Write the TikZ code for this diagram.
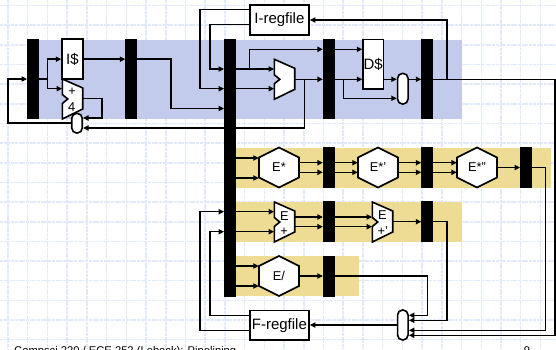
\documentclass[tikz,border=0pt]{standalone}
\usepackage{fontspec}
\setmainfont{Liberation Sans}
\usetikzlibrary{arrows.meta}
\definecolor{gridc}{HTML}{E2E9FB}
\definecolor{bandblue}{HTML}{C3CBEC}
\definecolor{bandyellow}{HTML}{EEDB94}
\tikzset{
  wire/.style={draw=black,line width=1.5pt,line join=miter},
  arrow/.style={wire,-{Triangle[length=5.5pt,width=5.2pt]}},
  pipebar/.style={fill=black,draw=none,inner sep=0pt,minimum width=11.5pt},
  block/.style={draw=black,fill=white,line width=1.6pt,inner sep=0pt},
  mux/.style={draw=black,fill=white,line width=1.6pt,inner sep=0pt,rounded corners=5pt,minimum width=10.5pt},
  shapebox/.style={inner sep=0pt,font=\fontsize{12.8}{14}\selectfont},
  bigtext/.style={font=\fontsize{15}{16}\selectfont},
  smalltext/.style={inner sep=0pt,font=\fontsize{12.8}{14}\selectfont},
  gridline/.style={draw=gridc,line width=1.5pt,dash pattern=on 3pt off 0.7pt},
  unit/.style={draw=black,fill=white,line width=1.6pt,line join=miter}
}
\newcommand{\hexa}[4]{%
  \draw[unit] (#2-20,#3-10) -- (#2,#3-20) -- (#2+20,#3-10) -- (#2+20,#3+10) -- (#2,#3+20) -- (#2-20,#3+10) -- cycle;
  \node[shapebox,minimum width=40pt,minimum height=40pt] (#1) at (#2,#3) {#4};}
\newcommand{\notched}[3]{%
  \draw[unit] (#2,#3) -- (#2+20.4,#3+9) -- (#2+20.4,#3+30) -- (#2,#3+40) -- (#2,#3+24.5) -- (#2+5.5,#3+20) -- (#2,#3+15.5) -- cycle;
  \node[inner sep=0pt,minimum width=20.4pt,minimum height=40pt] (#1) at (#2+10.2,#3+20) {};}
\begin{document}
\begin{tikzpicture}[x=1pt,y=-1pt]
\useasboundingbox (0,0) rectangle (556,349);
\begin{scope}
\clip (0,0) rectangle (556,349);
\fill[white] (0,0) rectangle (556,349);
% grid
\foreach \k in {0,...,27} \draw[gridline] ({8+19.72*\k},0) -- ({8+19.72*\k},349);
\foreach \k in {0,...,17} \draw[gridline] (0,{5.5+19.66*\k}) -- (556,{5.5+19.66*\k});
% bands
\fill[bandblue] (30,40) rectangle (462,119);
\fill[bandyellow] (230,148) rectangle (551,188);
\fill[bandyellow] (230,201.7) rectangle (462,241.7);
\fill[bandyellow] (230,256) rectangle (359,296);
% pipeline bars
\node[pipebar,minimum height=80.5pt] (barA) at (33,78.8) {};
\node[pipebar,minimum height=80.5pt] (barB) at (131.2,78.8) {};
\node[pipebar,minimum height=258pt] (barC) at (230,167.5) {};
\node[pipebar,minimum height=80.5pt] (barD) at (328.8,78.8) {};
\node[pipebar,minimum height=80.5pt] (barE) at (427.2,78.8) {};
\node[pipebar,minimum height=41pt] (barF) at (328.8,167.5) {};
\node[pipebar,minimum height=41pt] (barG) at (427.2,167.5) {};
\node[pipebar,minimum height=41pt] (barH) at (526,167.5) {};
\node[pipebar,minimum height=41pt] (barI) at (328.8,221.5) {};
\node[pipebar,minimum height=41pt] (barJ) at (427.2,221.5) {};
\node[pipebar,minimum height=41pt] (barK) at (328.8,276) {};
% memories and register files
\node[block,minimum width=20.7pt,minimum height=40pt,bigtext] (icache) at (72.4,59.2) {I\$};
\node[block,minimum width=20.3pt,minimum height=49.4pt,bigtext] (dcache) at (373.2,64) {D\$};
\node[block,minimum width=59.3pt,minimum height=29.7pt,bigtext] (iregs) at (279.4,19.9) {I-regfile};
\node[block,minimum width=59.3pt,minimum height=29.7pt,bigtext] (fregs) at (279.4,325.2) {F-regfile};
% function units
\notched{adder}{62.3}{79}
\notched{alu}{274.3}{59.3}
\notched{addA}{274.3}{202}
\notched{addB}{372.3}{202}
\node[smalltext] (adderPlus) at (72,91.5) {+};
\node[smalltext] (adderFour) at (71.7,107) {4};
\node[smalltext] (addAE) at (284.3,216) {E};
\node[smalltext] (addAP) at (284,232) {+};
\node[smalltext] (addBE) at (382.3,215.5) {E};
\node[smalltext] (addBP) at (382.8,231) {+'};
\hexa{hexA}{279}{167.5}{E*}
\hexa{hexB}{378}{167.5}{E*'}
\hexa{hexC}{477}{167.5}{E*''}
\hexa{hexD}{279}{276}{E/}
% muxes
\node[mux,minimum height=19.7pt] (muxPC) at (77,123.2) {};
\node[mux,minimum height=30.7pt] (muxM) at (402.8,88.7) {};
\node[mux,minimum height=30pt] (muxF) at (402.8,325) {};
% fetch
\draw[arrow] (muxPC.west |- 0,123) -- (8,123) -- (8,79) -- (barA.west |- 0,79);
\draw[arrow] (barA.east |- 0,79) -- (47.3,79) -- (47.3,59.2) -- (icache.west |- 0,59.2);
\draw[arrow] (47.3,79) -- (47.3,88.7) -- (adder.west |- 0,88.7);
\draw[arrow] (icache.east) -- (barB.west |- icache.east);
\draw[arrow] (barB.east |- 0,59.2) -- (171,59.2) -- (171,108.5) -- (barC.west |- 0,108.5);
\draw[arrow] (adder.east |- 0,98.3) -- (102,98.3) -- (102,118) -- (muxPC.east |- 0,118);
% register read
\draw[arrow] (iregs.west |- 0,9.7) -- (200,9.7) -- (200,88.7) -- (barC.west |- 0,88.7);
\draw[arrow] (iregs.west |- 0,24.7) -- (210,24.7) -- (210,69) -- (barC.west |- 0,69);
% execute
\draw[arrow] (barC.east |- 0,69) -- (alu.west |- 0,69);
\draw[arrow] (barC.east |- 0,88.7) -- (alu.west |- 0,88.7);
\draw[arrow] (249.3,69) -- (249.3,49.3) -- (barD.west |- 0,49.3);
\draw[arrow] (alu.east |- 0,79.3) -- (barD.west |- 0,79.3);
\draw[arrow] (304.3,79.3) -- (304.3,128) -- (muxPC.east |- 0,128);
% memory
\draw[arrow] (barD.east |- 0,49.3) -- (dcache.west |- 0,49.3);
\draw[arrow] (barD.east |- 0,79.3) -- (dcache.west |- 0,79.3);
\draw[arrow] (343.3,79.3) -- (343.3,98.3) -- (muxM.west |- 0,98.3);
\draw[arrow] (dcache.east |- 0,79.3) -- (muxM.west |- 0,79.3);
\draw[arrow] (muxM.east |- 0,79.3) -- (barE.west |- 0,79.3);
% writeback
\draw[arrow] (barE.east |- 0,79.3) -- (555,79.3) -- (555,335.3) -- (muxF.east |- 0,335.3);
\draw[arrow] (447,79.3) -- (447,20) -- (iregs.east |- 0,20);
% E* pipeline
\draw[arrow] (barC.east |- 0,158) -- (hexA.west |- 0,158);
\draw[arrow] (barC.east |- 0,178) -- (hexA.west |- 0,178);
\draw[arrow] (hexA.east |- 0,162.7) -- (barF.west |- 0,162.7);
\draw[arrow] (hexA.east |- 0,172.3) -- (barF.west |- 0,172.3);
\draw[arrow] (barF.east |- 0,162.7) -- (hexB.west |- 0,162.7);
\draw[arrow] (barF.east |- 0,172.3) -- (hexB.west |- 0,172.3);
\draw[arrow] (hexB.east |- 0,162.7) -- (barG.west |- 0,162.7);
\draw[arrow] (hexB.east |- 0,172.3) -- (barG.west |- 0,172.3);
\draw[arrow] (barG.east |- 0,162.7) -- (hexC.west |- 0,162.7);
\draw[arrow] (barG.east |- 0,172.3) -- (hexC.west |- 0,172.3);
\draw[arrow] (hexC.east) -- (barH.west |- hexC.east);
\draw[arrow] (barH.east |- 0,167.7) -- (545.7,167.7) -- (545.7,330.3) -- (muxF.east |- 0,330.3);
% E+ pipeline
\draw[arrow] (fregs.west |- 0,330.3) -- (200,330.3) -- (200,211.7) -- (barC.west |- 0,211.7);
\draw[arrow] (fregs.west |- 0,315.3) -- (210,315.3) -- (210,231.7) -- (barC.west |- 0,231.7);
\draw[arrow] (barC.east |- 0,211.7) -- (addA.west |- 0,211.7);
\draw[arrow] (barC.east |- 0,231.7) -- (addA.west |- 0,231.7);
\draw[arrow] (addA.east |- 0,217) -- (barI.west |- 0,217);
\draw[arrow] (addA.east |- 0,226.7) -- (barI.west |- 0,226.7);
\draw[arrow] (barI.east |- 0,217) -- (addB.west |- 0,217);
\draw[arrow] (barI.east |- 0,226.7) -- (addB.west |- 0,226.7);
\draw[arrow] (addB.east |- 0,221.7) -- (barJ.west |- 0,221.7);
\draw[arrow] (barJ.east |- 0,221.7) -- (447,221.7) -- (447,320.3) -- (muxF.east |- 0,320.3);
% E/ pipeline
\draw[arrow] (barC.east |- 0,266) -- (hexD.west |- 0,266);
\draw[arrow] (barC.east |- 0,286) -- (hexD.west |- 0,286);
\draw[arrow] (hexD.east) -- (barK.west |- hexD.east);
\draw[arrow] (barK.east |- 0,276) -- (427.3,276) -- (427.3,315.3) -- (muxF.east |- 0,315.3);
\draw[arrow] (muxF.west) -- (fregs.east |- muxF.west);
% footer
\node[anchor=base west,inner sep=0pt,font=\fontsize{11.2}{13}\selectfont] (footer) at (14,354) {Compsci 220 / ECE 252 (Lebeck): Pipelining};
\node[anchor=base,inner sep=0pt,font=\fontsize{11.2}{13}\selectfont] (pagenum) at (527,354) {9};
\end{scope}
\end{tikzpicture}
\end{document}
